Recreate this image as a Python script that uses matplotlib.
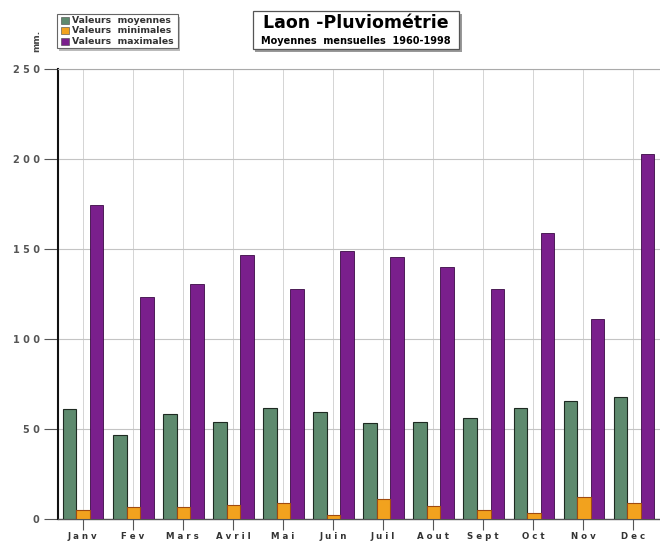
import matplotlib
matplotlib.use("Agg")
import matplotlib.pyplot as plt
import matplotlib.patches as mpatches
import numpy as np

# --- Data ---
MONTHS = ["Janv", "Fev", "Mars", "Avril", "Mai", "Juin",
          "Juil", "Aout", "Sept", "Oct", "Nov", "Dec"]
MOYENNES = [61.1, 46.3, 57.9, 53.7, 61.3, 59.4, 53.3, 53.9, 55.7, 61.4, 65.3, 67.4]
MINIMALES = [4.6, 6.5, 6.5, 7.6, 8.5, 2.2, 11.1, 7.0, 4.6, 3.1, 12.0, 8.5]
MAXIMALES = [174.6, 123.2, 130.7, 146.4, 127.5, 148.6, 145.8, 139.7, 127.7, 158.8, 111.0, 203.0]
Y_TICKS = [0, 50, 100, 150, 200, 250]

# --- Style ---
GREEN = "#5e8a6e"
ORANGE = "#f2a21e"
PURPLE = "#7a1f8c"
W = 0.27

plt.rcParams['font.family'] = 'DejaVu Sans'

fig = plt.figure(figsize=(6.6, 5.43), dpi=100)
ax = fig.add_axes([0.0874, 0.0451, 0.9126, 0.8273])

x = np.arange(len(MONTHS))
ax.bar(x - 0.26, MOYENNES, W, color=GREEN, edgecolor="#1e2a22", linewidth=0.8, zorder=3)
ax.bar(x + 0.01, MINIMALES, W, color=ORANGE, edgecolor="#a04a10", linewidth=0.8, zorder=4)
ax.bar(x + 0.28, MAXIMALES, W, color=PURPLE, edgecolor="#3a0a44", linewidth=0.6, zorder=3)

ax.set_xlim(-0.5, 11.53)
ax.set_ylim(0, 250)

# Ticks
ax.set_yticks(Y_TICKS)
ax.set_yticklabels([" ".join(str(v)) for v in Y_TICKS], fontsize=7,
                   fontweight='bold', color="#555555")
ax.set_xticks(x)
ax.set_xticklabels([" ".join(m) for m in MONTHS],
                   fontsize=6.2, fontweight='bold', color="#333333")
ax.tick_params(axis='y', length=10, width=0.8, color="#555555", pad=3)
ax.tick_params(axis='x', length=8, width=0.8, color="#555555", pad=1.5)

# Grid
ax.grid(True, axis='y', color="#c4c4c4", linewidth=0.8, zorder=0)
ax.grid(True, axis='x', color="#d4d4d4", linewidth=0.7, zorder=0)
ax.set_axisbelow(True)

# Spines
ax.spines['left'].set_color("#111111")
ax.spines['left'].set_linewidth(1.5)
ax.spines['bottom'].set_color("#555555")
ax.spines['bottom'].set_linewidth(1.0)
ax.spines['top'].set_color("#aaaaaa")
ax.spines['top'].set_linewidth(0.8)
ax.spines['right'].set_visible(False)

# Unit label
fig.text(0.055, 0.925, "mm.", rotation=90, fontsize=6.5, fontweight='bold',
         color="#444444", ha='center', va='center')

# Legend box (with shadow)
shadow = mpatches.Rectangle((0.089, 0.906), 0.183, 0.063, transform=fig.transFigure,
                            facecolor="#bbbbbb", edgecolor="none", zorder=1)
box = mpatches.Rectangle((0.086, 0.911), 0.183, 0.063, transform=fig.transFigure,
                         facecolor="white", edgecolor="#666666", linewidth=0.8, zorder=2)
fig.patches.extend([shadow, box])
legend_items = [("Valeurs  moyennes", GREEN), ("Valeurs  minimales", ORANGE),
                ("Valeurs  maximales", PURPLE)]
for i, (label, col) in enumerate(legend_items):
    yy = 0.963 - i * 0.0195
    fig.patches.append(mpatches.Rectangle((0.093, yy - 0.0065), 0.011, 0.013,
                                          transform=fig.transFigure, facecolor=col,
                                          edgecolor="#444444", linewidth=0.4, zorder=3))
    fig.text(0.109, yy, label, fontsize=6.7, fontweight='bold', color="#333333",
             va='center', ha='left', zorder=4)

# Title box (with shadow)
tshadow = mpatches.Rectangle((0.387, 0.904), 0.313, 0.07, transform=fig.transFigure,
                             facecolor="#999999", edgecolor="none", zorder=1)
tbox = mpatches.Rectangle((0.383, 0.909), 0.313, 0.07, transform=fig.transFigure,
                          facecolor="white", edgecolor="#555555", linewidth=0.9, zorder=2)
fig.patches.extend([tshadow, tbox])
fig.text(0.539, 0.957, "Laon -Pluviométrie", fontsize=12.5, fontweight='bold',
         ha='center', va='center', zorder=4)
fig.text(0.539, 0.924, "Moyennes  mensuelles  1960-1998", fontsize=7, fontweight='bold',
         ha='center', va='center', zorder=4)

fig.savefig("out.png", dpi=100)
